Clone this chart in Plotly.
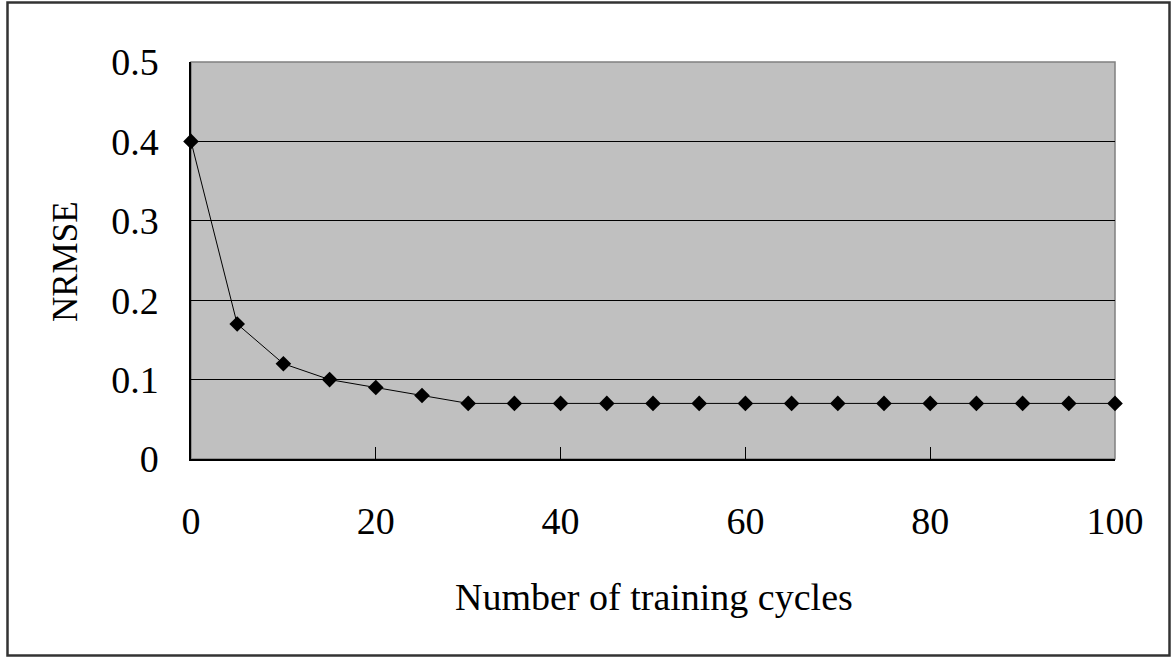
import plotly.graph_objects as go

cycles = [0, 5, 10, 15, 20, 25, 30, 35, 40, 45, 50, 55, 60, 65, 70, 75, 80, 85, 90, 95, 100]
nrmse = [0.40, 0.17, 0.12, 0.10, 0.09, 0.08, 0.07, 0.07, 0.07, 0.07, 0.07, 0.07, 0.07,
         0.07, 0.07, 0.07, 0.07, 0.07, 0.07, 0.07, 0.07]
x_ticks = [0, 20, 40, 60, 80, 100]
y_ticks = [0, 0.1, 0.2, 0.3, 0.4, 0.5]
y_tick_text = ["0", "0.1", "0.2", "0.3", "0.4", "0.5"]
x_title = "Number of training cycles"
y_title = "NRMSE"

W, H = 1171, 657
L, R, T, B = 191, 1115, 62, 459
pw, ph = R - L, B - T

def px(x):
    return (x - L) / pw

def py(y):
    return (B - y) / ph

FONT = "Liberation Serif, Times New Roman, serif"

fig = go.Figure()
fig.add_trace(go.Scatter(
    x=cycles, y=nrmse, mode="lines+markers",
    line=dict(color="black", width=1),
    marker=dict(symbol="diamond", size=12, color="black"),
    cliponaxis=False, showlegend=False,
))

fig.update_layout(
    width=W, height=H,
    margin=dict(l=L, r=W - R, t=T, b=H - B, autoexpand=False),
    paper_bgcolor="white", plot_bgcolor="#C0C0C0",
    font=dict(family=FONT, size=38, color="black"),
    xaxis=dict(range=[0, 100], tickvals=x_ticks, ticks="inside", ticklen=12,
               tickcolor="black", tickwidth=1, showgrid=False, zeroline=False,
               showline=True, linecolor="black", linewidth=1.5,
               ticklabelstandoff=28, tickfont=dict(size=38, family=FONT)),
    yaxis=dict(range=[0, 0.5], tickvals=y_ticks, ticktext=y_tick_text, ticks="inside",
               ticklen=12, tickcolor="black", tickwidth=1, showgrid=True,
               gridcolor="black", gridwidth=1, zeroline=False,
               showline=True, linecolor="black", linewidth=1.5,
               ticklabelstandoff=23, tickfont=dict(size=38, family=FONT)),
    shapes=[
        dict(type="rect", xref="paper", yref="paper", x0=0, x1=1, y0=0, y1=1,
             line=dict(color="#808080", width=1.5), layer="below"),
        dict(type="rect", xref="paper", yref="paper",
             x0=px(7.5), x1=px(1169.5), y0=py(655.5), y1=py(2.5),
             line=dict(color="#333333", width=2.5)),
    ],
    annotations=[
        dict(text=x_title, xref="paper", yref="paper", x=px(653.5), y=py(597),
             showarrow=False, xanchor="center", yanchor="middle",
             font=dict(size=38, family=FONT)),
        dict(text=y_title, xref="paper", yref="paper", x=px(65), y=py(262),
             showarrow=False, xanchor="center", yanchor="middle", textangle=-90,
             font=dict(size=35, family=FONT)),
    ],
)

fig.write_html(
    "out.html",
    config={"displayModeBar": False},
    post_script="document.body.style.margin='0';document.body.style.overflow='hidden';",
)
